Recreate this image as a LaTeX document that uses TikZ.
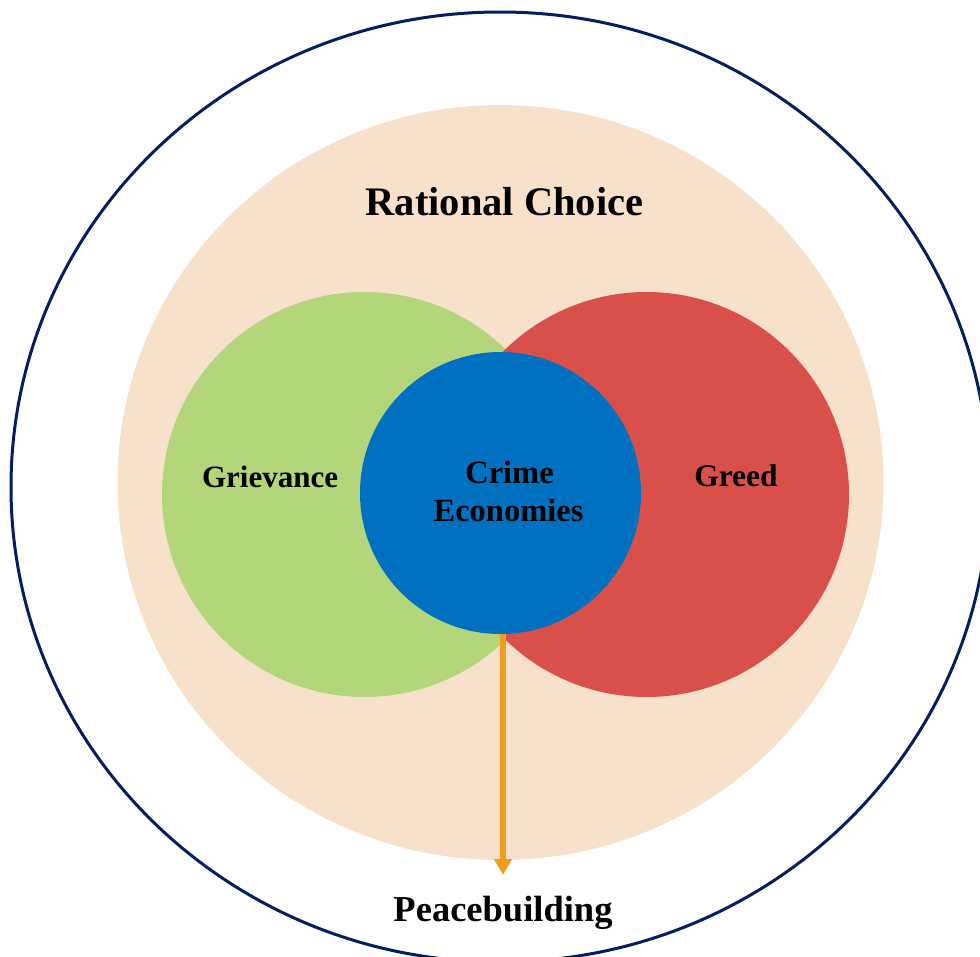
\documentclass[tikz,border=0pt]{standalone}
\usepackage{fontspec}
\setmainfont{Liberation Serif}
\usetikzlibrary{arrows.meta,shapes.geometric}
\definecolor{navy}{HTML}{002060}
\definecolor{peach}{HTML}{F7E1CB}
\definecolor{leaf}{HTML}{B3D67B}
\definecolor{brick}{HTML}{D9504A}
\definecolor{ocean}{HTML}{0070C0}
\definecolor{amber}{HTML}{F29C1F}
\tikzset{
  blob/.style={ellipse, inner sep=0pt, draw=none},
  label/.style={text=black, anchor=base, align=center, inner sep=0pt},
  flow/.style={draw=amber, line width=5.5pt, -{Triangle[width=17pt,length=16pt]}},
}
\begin{document}
\begin{tikzpicture}[x=1pt, y=-1pt]
  \useasboundingbox (0,0) rectangle (980,956);
  % outer frame
  \draw[navy, line width=3pt] (500,487) ellipse [x radius=489, y radius=475];
  % rational choice field
  \node[blob, fill=peach, minimum width=766pt, minimum height=755pt] (rc) at (500.5,482.5) {};
  % grievance and greed
  \node[blob, fill=leaf, minimum width=405pt, minimum height=405pt] (griev) at (364.5,494.5) {};
  \node[blob, fill=brick, minimum width=405pt, minimum height=405pt] (greed) at (646.5,494.5) {};
  % crime economies
  \node[blob, fill=ocean, minimum width=281pt, minimum height=282pt] (crime) at (500.5,493) {};
  % labels
  \node[label, font=\fontsize{40.5}{46}\bfseries\selectfont] (rct) at (504.5,215) {Rational Choice};
  \node[label, font=\fontsize{31}{36}\bfseries\selectfont] (gt) at (270,487) {Grievance};
  \node[label, font=\fontsize{31.5}{36}\bfseries\selectfont] (gr) at (736,486) {Greed};
  \node[label, font=\fontsize{32.5}{38}\bfseries\selectfont] (ct1) at (509.5,483) {Crime};
  \node[label, font=\fontsize{32.5}{38}\bfseries\selectfont] (ct2) at (508.5,521) {Economies};
  \node[label, font=\fontsize{36.5}{42}\bfseries\selectfont] (peace) at (503,921) {Peacebuilding};
  % outflow towards peacebuilding
  \coordinate (tip) at (503,875);
  \draw[flow] (crime.south -| tip) -- (tip);
\end{tikzpicture}
\end{document}
